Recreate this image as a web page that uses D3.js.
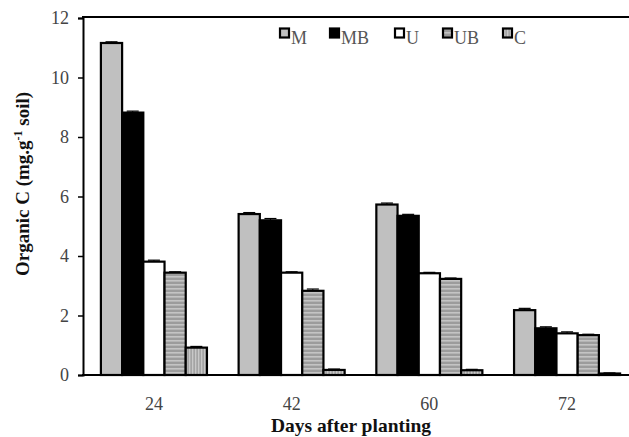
<!DOCTYPE html>
<html><head><meta charset="utf-8">
<script src="https://cdn.jsdelivr.net/npm/d3@7"></script>
<style>body{margin:0;background:#fff}svg{display:block}text{font-family:"Liberation Serif","Times New Roman",serif}</style>
</head><body><svg id="c" width="629" height="437"></svg>
<script>
const days = ["24","42","60","72"];
const series = ["M","MB","U","UB","C"];
const M  = [11.16, 5.41, 5.73, 2.18];
const MB = [8.82, 5.20, 5.35, 1.57];
const U  = [3.81, 3.44, 3.42, 1.40];
const UB = [3.44, 2.83, 3.23, 1.34];
const C  = [0.92, 0.17, 0.16, 0.05];
const errM  = [0.04, 0.05, 0.05, 0.06];
const errMB = [0.05, 0.06, 0.05, 0.05];
const errU  = [0.05, 0.03, 0.03, 0.05];
const errUB = [0.03, 0.06, 0.03, 0.03];
const errC  = [0.04, 0.03, 0.03, 0.02];
const yTicks = [0,2,4,6,8,10,12];

const values = {M, MB, U, UB, C};
const errs = {M: errM, MB: errMB, U: errU, UB: errUB, C: errC};

const svg = d3.select("#c");
const defs = svg.append("defs");
const pUB = defs.append("pattern").attr("id","pUB").attr("patternUnits","userSpaceOnUse").attr("width",8).attr("height",4);
pUB.append("rect").attr("width",8).attr("height",4).attr("fill","#9c9c9c");
pUB.append("rect").attr("y",0).attr("width",8).attr("height",1.6).attr("fill","#c4c4c4");
const pC = defs.append("pattern").attr("id","pC").attr("patternUnits","userSpaceOnUse").attr("width",3).attr("height",8);
pC.append("rect").attr("width",3).attr("height",8).attr("fill","#a4a4a4");
pC.append("rect").attr("x",0).attr("width",1.3).attr("height",8).attr("fill","#c8c8c8");
const fills = {M:"#c0c0c0", MB:"#000", U:"#fff", UB:"url(#pUB)", C:"url(#pC)"};

const x0 = d3.scaleBand().domain(days).range([83, 638]).paddingInner(0.23).paddingOuter(0.13);
const x1 = d3.scaleBand().domain(series).range([0, x0.bandwidth()]).padding(0);
const y = d3.scaleLinear().domain([0,12]).range([375, 18]);

// bars
const g = svg.append("g");
series.forEach(s => {
  days.forEach((d,i) => {
    const v = values[s][i];
    const bx = x0(d) + x1(s);
    g.append("rect").attr("x", bx).attr("y", y(v)).attr("width", x1.bandwidth()).attr("height", y(0)-y(v))
      .attr("fill", fills[s]).attr("stroke","#000").attr("stroke-width",2.2);
    const e = errs[s][i];
    const cx = bx + x1.bandwidth()/2;
    g.append("line").attr("x1",cx).attr("x2",cx).attr("y1",y(v+e)).attr("y2",y(v)).attr("stroke","#000").attr("stroke-width",1);
    g.append("line").attr("x1",cx-6).attr("x2",cx+6).attr("y1",y(v+e)).attr("y2",y(v+e)).attr("stroke","#000").attr("stroke-width",1.2);
  });
});

// axes
const yAxis = svg.append("g").attr("transform","translate(83,0)")
  .call(d3.axisLeft(y).tickValues(yTicks).tickSize(5).tickPadding(9));
yAxis.select(".domain").attr("stroke","#000").attr("stroke-width",2);
yAxis.selectAll(".tick line").attr("stroke","#000").attr("stroke-width",1.5);
yAxis.selectAll(".tick text").attr("font-size",18).attr("fill","#444").attr("font-family","Liberation Serif");

const xAxis = svg.append("g").attr("transform","translate(0,375)")
  .call(d3.axisBottom(x0).tickSize(0).tickPadding(22));
xAxis.select(".domain").remove();
xAxis.selectAll(".tick text").attr("font-size",18).attr("fill","#444").attr("font-family","Liberation Serif");
svg.append("line").attr("x1",82).attr("x2",629).attr("y1",375).attr("y2",375).attr("stroke","#000").attr("stroke-width",2);
svg.append("line").attr("x1",82).attr("x2",629).attr("y1",17).attr("y2",17).attr("stroke","#000").attr("stroke-width",2);

// axis titles
svg.append("text").attr("x",351).attr("y",432).attr("text-anchor","middle").attr("font-size",19.5).attr("font-weight","bold").attr("fill","#111").text("Days after planting");
const yt = svg.append("text").attr("transform","translate(29,184) rotate(-90)").attr("text-anchor","middle").attr("font-size",19).attr("font-weight","bold").attr("fill","#111");
yt.append("tspan").text("Organic C (mg.g");
yt.append("tspan").attr("dy",-7).attr("font-size",12).text("-1");
yt.append("tspan").attr("dy",7).text(" soil)");

// legend
const legX = [280, 330, 395, 443, 503];
series.forEach((s,i) => {
  svg.append("rect").attr("x",legX[i]).attr("y",28.5).attr("width",9).attr("height",9)
    .attr("fill", fills[s]).attr("stroke","#000").attr("stroke-width",2.2);
  svg.append("text").attr("x",legX[i]+11).attr("y",44).attr("font-size",18).attr("fill","#555").text(s);
});
</script></body></html>
